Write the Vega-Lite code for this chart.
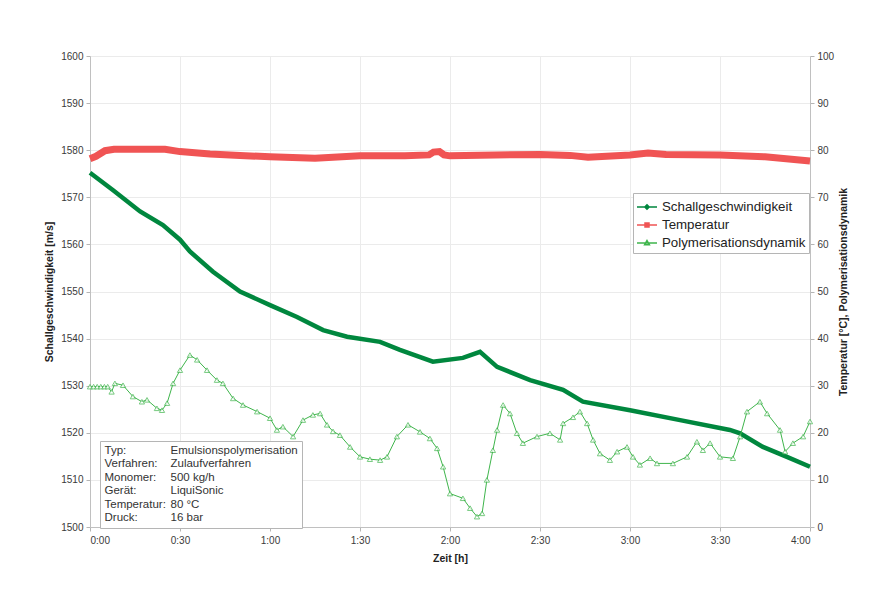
{
  "$schema": "https://vega.github.io/schema/vega-lite/v6.json",
  "width": 720,
  "height": 471,
  "autosize": {"type": "none"},
  "padding": {"left": 90, "top": 56, "right": 67, "bottom": 65},
  "background": "white",
  "config": {
    "font": "Liberation Sans",
    "view": {"stroke": null},
    "axis": {
      "labelFontSize": 10,
      "labelColor": "#3a3a3a",
      "titleFontSize": 10.5,
      "titleFontWeight": "bold",
      "titleColor": "#222222",
      "tickColor": "#b5b5b5",
      "domainColor": "#c0c0c0",
      "gridColor": "#ebebeb",
      "tickSize": 4,
      "labelPadding": 3
    }
  },
  "datasets": {
    "d": [
      {"series": "Schallgeschwindigkeit", "t": 0, "v": 1575.2},
      {"series": "Schallgeschwindigkeit", "t": 7.7, "v": 1571.5},
      {"series": "Schallgeschwindigkeit", "t": 16.7, "v": 1567.0},
      {"series": "Schallgeschwindigkeit", "t": 24.3, "v": 1564.1},
      {"series": "Schallgeschwindigkeit", "t": 30, "v": 1561.0},
      {"series": "Schallgeschwindigkeit", "t": 33.3, "v": 1558.5},
      {"series": "Schallgeschwindigkeit", "t": 41, "v": 1554.2},
      {"series": "Schallgeschwindigkeit", "t": 50, "v": 1550.0},
      {"series": "Schallgeschwindigkeit", "t": 60, "v": 1547.1},
      {"series": "Schallgeschwindigkeit", "t": 69, "v": 1544.6},
      {"series": "Schallgeschwindigkeit", "t": 77.7, "v": 1541.8},
      {"series": "Schallgeschwindigkeit", "t": 85.7, "v": 1540.4},
      {"series": "Schallgeschwindigkeit", "t": 96.7, "v": 1539.3},
      {"series": "Schallgeschwindigkeit", "t": 103.3, "v": 1537.6},
      {"series": "Schallgeschwindigkeit", "t": 114.3, "v": 1535.1},
      {"series": "Schallgeschwindigkeit", "t": 124.3, "v": 1535.9},
      {"series": "Schallgeschwindigkeit", "t": 130, "v": 1537.2},
      {"series": "Schallgeschwindigkeit", "t": 135.7, "v": 1534.0},
      {"series": "Schallgeschwindigkeit", "t": 146.7, "v": 1531.2},
      {"series": "Schallgeschwindigkeit", "t": 157.7, "v": 1529.1},
      {"series": "Schallgeschwindigkeit", "t": 164.3, "v": 1526.6},
      {"series": "Schallgeschwindigkeit", "t": 180, "v": 1524.8},
      {"series": "Schallgeschwindigkeit", "t": 196.7, "v": 1522.7},
      {"series": "Schallgeschwindigkeit", "t": 213.3, "v": 1520.6},
      {"series": "Schallgeschwindigkeit", "t": 216.7, "v": 1519.9},
      {"series": "Schallgeschwindigkeit", "t": 224.3, "v": 1517.0},
      {"series": "Schallgeschwindigkeit", "t": 232.3, "v": 1514.9},
      {"series": "Schallgeschwindigkeit", "t": 240, "v": 1512.8},

      {"series": "Temperatur", "t": 0, "v": 78.2},
      {"series": "Temperatur", "t": 2, "v": 78.7},
      {"series": "Temperatur", "t": 5, "v": 79.9},
      {"series": "Temperatur", "t": 8, "v": 80.2},
      {"series": "Temperatur", "t": 25, "v": 80.2},
      {"series": "Temperatur", "t": 30, "v": 79.7},
      {"series": "Temperatur", "t": 40, "v": 79.2},
      {"series": "Temperatur", "t": 50, "v": 78.9},
      {"series": "Temperatur", "t": 60, "v": 78.6},
      {"series": "Temperatur", "t": 75, "v": 78.3},
      {"series": "Temperatur", "t": 90, "v": 78.8},
      {"series": "Temperatur", "t": 105, "v": 78.8},
      {"series": "Temperatur", "t": 113, "v": 79.0},
      {"series": "Temperatur", "t": 114.5, "v": 79.6},
      {"series": "Temperatur", "t": 116.5, "v": 79.7},
      {"series": "Temperatur", "t": 118, "v": 79.0},
      {"series": "Temperatur", "t": 120, "v": 78.8},
      {"series": "Temperatur", "t": 135, "v": 79.0},
      {"series": "Temperatur", "t": 150, "v": 79.1},
      {"series": "Temperatur", "t": 160, "v": 78.9},
      {"series": "Temperatur", "t": 166, "v": 78.5},
      {"series": "Temperatur", "t": 180, "v": 79.0},
      {"series": "Temperatur", "t": 186, "v": 79.4},
      {"series": "Temperatur", "t": 192, "v": 79.1},
      {"series": "Temperatur", "t": 210, "v": 79.0},
      {"series": "Temperatur", "t": 225, "v": 78.6},
      {"series": "Temperatur", "t": 240, "v": 77.7},

      {"series": "Polymerisationsdynamik", "t": 0, "v": 29.8},
      {"series": "Polymerisationsdynamik", "t": 1.2, "v": 29.8},
      {"series": "Polymerisationsdynamik", "t": 2.4, "v": 29.8},
      {"series": "Polymerisationsdynamik", "t": 3.6, "v": 29.8},
      {"series": "Polymerisationsdynamik", "t": 4.8, "v": 29.8},
      {"series": "Polymerisationsdynamik", "t": 5.9, "v": 29.8},
      {"series": "Polymerisationsdynamik", "t": 7.2, "v": 28.7},
      {"series": "Polymerisationsdynamik", "t": 8.3, "v": 30.5},
      {"series": "Polymerisationsdynamik", "t": 11, "v": 30.1},
      {"series": "Polymerisationsdynamik", "t": 14.3, "v": 27.7},
      {"series": "Polymerisationsdynamik", "t": 17.3, "v": 26.6},
      {"series": "Polymerisationsdynamik", "t": 19, "v": 27.0},
      {"series": "Polymerisationsdynamik", "t": 22.3, "v": 25.2},
      {"series": "Polymerisationsdynamik", "t": 24, "v": 24.8},
      {"series": "Polymerisationsdynamik", "t": 25.7, "v": 26.3},
      {"series": "Polymerisationsdynamik", "t": 27.7, "v": 30.5},
      {"series": "Polymerisationsdynamik", "t": 30, "v": 33.3},
      {"series": "Polymerisationsdynamik", "t": 33.3, "v": 36.5},
      {"series": "Polymerisationsdynamik", "t": 35.7, "v": 35.5},
      {"series": "Polymerisationsdynamik", "t": 39, "v": 33.3},
      {"series": "Polymerisationsdynamik", "t": 42.3, "v": 31.2},
      {"series": "Polymerisationsdynamik", "t": 44.3, "v": 30.5},
      {"series": "Polymerisationsdynamik", "t": 47.7, "v": 27.3},
      {"series": "Polymerisationsdynamik", "t": 51, "v": 25.9},
      {"series": "Polymerisationsdynamik", "t": 55.7, "v": 24.5},
      {"series": "Polymerisationsdynamik", "t": 60, "v": 23.1},
      {"series": "Polymerisationsdynamik", "t": 62.3, "v": 20.6},
      {"series": "Polymerisationsdynamik", "t": 64.3, "v": 21.3},
      {"series": "Polymerisationsdynamik", "t": 67.7, "v": 19.2},
      {"series": "Polymerisationsdynamik", "t": 71, "v": 22.7},
      {"series": "Polymerisationsdynamik", "t": 74.3, "v": 23.8},
      {"series": "Polymerisationsdynamik", "t": 76.7, "v": 24.1},
      {"series": "Polymerisationsdynamik", "t": 79, "v": 21.7},
      {"series": "Polymerisationsdynamik", "t": 81, "v": 20.3},
      {"series": "Polymerisationsdynamik", "t": 83.3, "v": 19.5},
      {"series": "Polymerisationsdynamik", "t": 86.7, "v": 17.0},
      {"series": "Polymerisationsdynamik", "t": 90, "v": 14.9},
      {"series": "Polymerisationsdynamik", "t": 93.3, "v": 14.4},
      {"series": "Polymerisationsdynamik", "t": 96.7, "v": 14.2},
      {"series": "Polymerisationsdynamik", "t": 99, "v": 14.9},
      {"series": "Polymerisationsdynamik", "t": 102.3, "v": 19.2},
      {"series": "Polymerisationsdynamik", "t": 106, "v": 21.7},
      {"series": "Polymerisationsdynamik", "t": 110, "v": 20.2},
      {"series": "Polymerisationsdynamik", "t": 113.3, "v": 18.8},
      {"series": "Polymerisationsdynamik", "t": 115.7, "v": 16.7},
      {"series": "Polymerisationsdynamik", "t": 117.7, "v": 12.8},
      {"series": "Polymerisationsdynamik", "t": 120, "v": 7.1},
      {"series": "Polymerisationsdynamik", "t": 124.3, "v": 6.1},
      {"series": "Polymerisationsdynamik", "t": 126.7, "v": 4.0},
      {"series": "Polymerisationsdynamik", "t": 129, "v": 2.2},
      {"series": "Polymerisationsdynamik", "t": 130.7, "v": 2.9},
      {"series": "Polymerisationsdynamik", "t": 132.3, "v": 10.0},
      {"series": "Polymerisationsdynamik", "t": 134.3, "v": 16.3},
      {"series": "Polymerisationsdynamik", "t": 135.7, "v": 20.6},
      {"series": "Polymerisationsdynamik", "t": 137.7, "v": 25.9},
      {"series": "Polymerisationsdynamik", "t": 140, "v": 24.1},
      {"series": "Polymerisationsdynamik", "t": 142.3, "v": 19.9},
      {"series": "Polymerisationsdynamik", "t": 144.3, "v": 17.8},
      {"series": "Polymerisationsdynamik", "t": 149, "v": 19.2},
      {"series": "Polymerisationsdynamik", "t": 153.3, "v": 19.9},
      {"series": "Polymerisationsdynamik", "t": 156.7, "v": 18.5},
      {"series": "Polymerisationsdynamik", "t": 157.7, "v": 22.0},
      {"series": "Polymerisationsdynamik", "t": 161, "v": 23.3},
      {"series": "Polymerisationsdynamik", "t": 163.3, "v": 24.5},
      {"series": "Polymerisationsdynamik", "t": 165.7, "v": 22.0},
      {"series": "Polymerisationsdynamik", "t": 167.7, "v": 18.5},
      {"series": "Polymerisationsdynamik", "t": 170, "v": 15.6},
      {"series": "Polymerisationsdynamik", "t": 173.3, "v": 14.2},
      {"series": "Polymerisationsdynamik", "t": 175.7, "v": 16.0},
      {"series": "Polymerisationsdynamik", "t": 179, "v": 17.0},
      {"series": "Polymerisationsdynamik", "t": 181, "v": 14.9},
      {"series": "Polymerisationsdynamik", "t": 183.3, "v": 13.2},
      {"series": "Polymerisationsdynamik", "t": 186.7, "v": 14.6},
      {"series": "Polymerisationsdynamik", "t": 189, "v": 13.5},
      {"series": "Polymerisationsdynamik", "t": 194.3, "v": 13.5},
      {"series": "Polymerisationsdynamik", "t": 199, "v": 14.9},
      {"series": "Polymerisationsdynamik", "t": 202.3, "v": 18.1},
      {"series": "Polymerisationsdynamik", "t": 204.3, "v": 16.3},
      {"series": "Polymerisationsdynamik", "t": 206.7, "v": 17.8},
      {"series": "Polymerisationsdynamik", "t": 210, "v": 14.9},
      {"series": "Polymerisationsdynamik", "t": 214.3, "v": 14.6},
      {"series": "Polymerisationsdynamik", "t": 216.7, "v": 19.2},
      {"series": "Polymerisationsdynamik", "t": 219, "v": 24.5},
      {"series": "Polymerisationsdynamik", "t": 223.3, "v": 26.6},
      {"series": "Polymerisationsdynamik", "t": 225.7, "v": 24.1},
      {"series": "Polymerisationsdynamik", "t": 230, "v": 20.6},
      {"series": "Polymerisationsdynamik", "t": 231.7, "v": 16.0},
      {"series": "Polymerisationsdynamik", "t": 234.3, "v": 17.8},
      {"series": "Polymerisationsdynamik", "t": 237.7, "v": 19.2},
      {"series": "Polymerisationsdynamik", "t": 240, "v": 22.4}
    ],
    "info": [
      {"info": "Typ:"},
      {"info": "Verfahren:"},
      {"info": "Monomer:"},
      {"info": "Gerät:"},
      {"info": "Temperatur:"},
      {"info": "Druck:"},
      {"info": "Emulsionspolymerisation"},
      {"info": "Zulaufverfahren"},
      {"info": "500 kg/h"},
      {"info": "LiquiSonic"},
      {"info": "80 °C"},
      {"info": "16 bar"}
    ]
  },
  "layer": [
    {
      "data": {"name": "d"},
      "transform": [{"filter": "datum.series == 'Schallgeschwindigkeit'"}],
      "mark": {"type": "line", "color": "#00873e", "strokeWidth": 4.5},
      "encoding": {
        "x": {"field": "t", "type": "quantitative", "scale": {"domain": [0, 240], "nice": false, "zero": false},
          "axis": {"values": [0, 30, 60, 90, 120, 150, 180, 210, 240], "labelExpr": "floor(datum.value/60) + ':' + (datum.value % 60 == 0 ? '00' : '30')", "title": "Zeit [h]", "grid": true, "labelPadding": 4, "titlePadding": 8}},
        "y": {"field": "v", "type": "quantitative", "scale": {"domain": [1500, 1600], "nice": false, "zero": false},
          "axis": {"values": [1500, 1510, 1520, 1530, 1540, 1550, 1560, 1570, 1580, 1590, 1600], "format": "d", "title": "Schallgeschwindigkeit [m/s]", "grid": true, "titlePadding": 6}}
      }
    },
    {
      "layer": [
        {
          "data": {"name": "d"},
          "transform": [{"filter": "datum.series == 'Temperatur'"}],
          "mark": {"type": "line", "color": "#f05454", "strokeWidth": 7},
          "encoding": {
            "x": {"field": "t", "type": "quantitative"},
            "y": {"field": "v", "type": "quantitative", "scale": {"domain": [0, 100], "nice": false},
              "axis": {"orient": "right", "values": [0, 10, 20, 30, 40, 50, 60, 70, 80, 90, 100], "grid": false, "title": "Temperatur [°C], Polymerisationsdynamik", "titleAngle": 270, "titlePadding": 15}}
          }
        },
        {
          "data": {"name": "d"},
          "transform": [{"filter": "datum.series == 'Polymerisationsdynamik'"}],
          "mark": {"type": "line", "color": "#3fb54c", "strokeWidth": 1},
          "encoding": {
            "x": {"field": "t", "type": "quantitative"},
            "y": {"field": "v", "type": "quantitative"}
          }
        },
        {
          "data": {"name": "d"},
          "transform": [{"filter": "datum.series == 'Polymerisationsdynamik'"}],
          "mark": {"type": "point", "shape": "triangle-up", "stroke": "#3fb54c", "fill": "white", "filled": true, "size": 28, "strokeWidth": 1},
          "encoding": {
            "x": {"field": "t", "type": "quantitative"},
            "y": {"field": "v", "type": "quantitative"}
          }
        },
        {
          "data": {"name": "d"},
          "mark": {"type": "point", "filled": true, "opacity": 0, "strokeWidth": 1.5},
          "encoding": {
            "stroke": {"field": "series", "type": "nominal",
              "scale": {"domain": ["Schallgeschwindigkeit", "Temperatur", "Polymerisationsdynamik"], "range": ["#00873e", "#f05454", "#3fb54c"]},
              "legend": {"title": null, "orient": "none", "legendX": 543, "legendY": 137, "padding": 3, "strokeColor": "#b5b5b5", "fillColor": "white", "symbolSize": 400, "labelOffset": 4, "labelFontSize": 13.3, "labelColor": "#222222", "rowPadding": 0, "symbolStrokeWidth": 1.5, "symbolOpacity": 1}},
            "fill": {"field": "series", "type": "nominal",
              "scale": {"domain": ["Schallgeschwindigkeit", "Temperatur", "Polymerisationsdynamik"], "range": ["#00873e", "#f05454", "white"]},
              "legend": {"title": null, "orient": "none", "legendX": 543, "legendY": 137, "padding": 3, "strokeColor": "#b5b5b5", "fillColor": "white", "symbolSize": 400, "labelOffset": 4, "labelFontSize": 13.3, "labelColor": "#222222", "rowPadding": 0, "symbolStrokeWidth": 1.5, "symbolOpacity": 1}},
            "shape": {"field": "series", "type": "nominal",
              "scale": {"domain": ["Schallgeschwindigkeit", "Temperatur", "Polymerisationsdynamik"], "range": ["M-1,0H1M0,-0.22L0.22,0L0,0.22L-0.22,0Z", "M-1,0H1M-0.2,-0.2H0.2V0.2H-0.2Z", "M-1,0H1M0,-0.24L0.24,0.18H-0.24Z"]},
              "legend": {"title": null, "orient": "none", "legendX": 543, "legendY": 137, "padding": 3, "strokeColor": "#b5b5b5", "fillColor": "white", "symbolSize": 400, "labelOffset": 4, "labelFontSize": 13.3, "labelColor": "#222222", "rowPadding": 0, "symbolStrokeWidth": 1.5, "symbolOpacity": 1}}
          }
        },
        {
          "data": {"name": "info"},
          "mark": {"type": "point", "filled": true, "opacity": 0},
          "encoding": {
            "color": {"field": "info", "type": "nominal",
              "scale": {"domain": ["Typ:", "Verfahren:", "Monomer:", "Gerät:", "Temperatur:", "Druck:", "Emulsionspolymerisation", "Zulaufverfahren", "500 kg/h", "LiquiSonic", "80 °C", "16 bar"], "range": ["white"]},
              "legend": {"title": null, "orient": "none", "legendX": 10, "legendY": 385, "columns": 2, "columnPadding": 4, "rowPadding": 0.5, "padding": 4, "strokeColor": "#b5b5b5", "fillColor": "white", "symbolType": "stroke", "symbolSize": 0.01, "symbolOpacity": 0, "labelOffset": -11, "labelFontSize": 11.5, "labelColor": "#333333", "labelLimit": 300, "gridAlign": "each"}}
          }
        }
      ]
    }
  ],
  "resolve": {"scale": {"y": "independent"}}
}
